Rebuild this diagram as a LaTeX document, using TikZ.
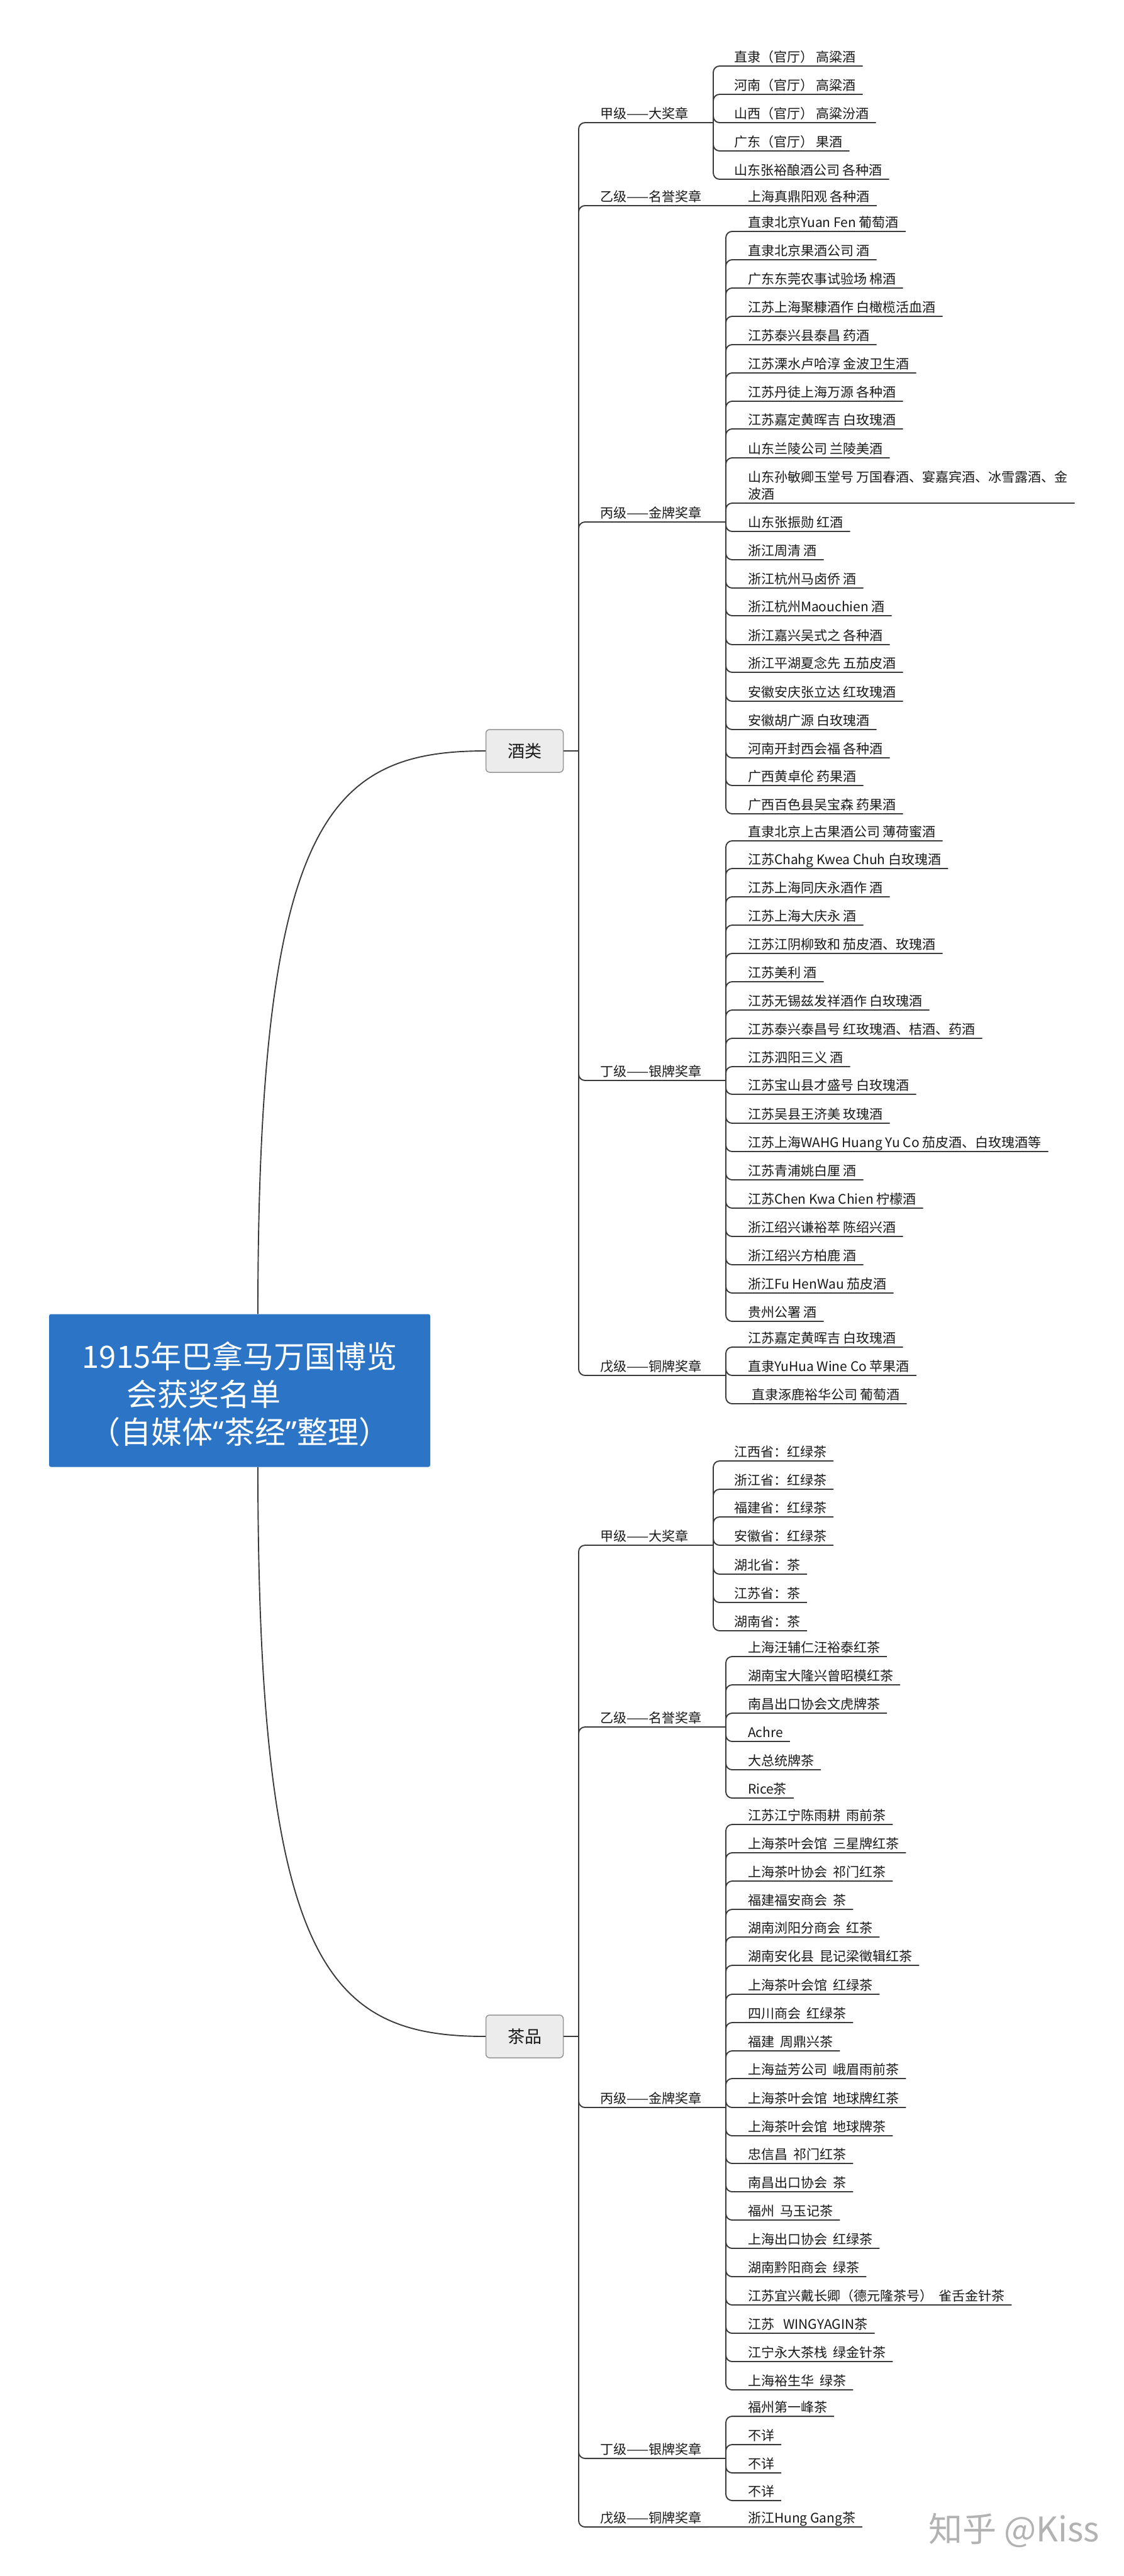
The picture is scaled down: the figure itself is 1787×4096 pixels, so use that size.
\documentclass[tikz,border=0pt]{standalone}
\usepackage{fontspec}
\setmainfont{Noto Sans CJK SC}
\newfontfamily\latinq{Noto Sans}
\definecolor{rootblue}{RGB}{44,117,198}
\definecolor{linecol}{RGB}{58,58,58}
\definecolor{boxfill}{RGB}{236,236,236}
\definecolor{boxdraw}{RGB}{150,150,150}
\begin{document}
\begin{tikzpicture}[x=1pt,y=-1pt,
  conn/.style={draw=linecol, line width=1.9pt, rounded corners=10pt},
  curve/.style={draw=linecol, line width=1.9pt},
  basetext/.style={anchor=south west, inner xsep=11pt, outer sep=0pt, text=black!90},
  leaf/.style={basetext, inner ysep=6.5pt, text depth=0pt, font=\fontsize{21}{25}\selectfont},
  leaftwo/.style={basetext, inner ysep=5pt, align=left, font=\fontsize{21}{27}\selectfont},
  lvl/.style={leaf},
  cat/.style={draw=boxdraw, fill=boxfill, rounded corners=6pt, line width=1.5pt, minimum width=123pt, minimum height=68pt, font=\fontsize{27}{30}\selectfont, inner sep=0pt, text=black!90},
  root/.style={fill=rootblue, text=white, minimum width=606pt, minimum height=243pt, align=center, font=\fontsize{49}{60}\selectfont, inner sep=0pt, rounded corners=3pt},
  wmark/.style={font=\fontsize{54}{54}\selectfont, text=black!30, inner sep=0pt}
]
\fill[white] (0,0) rectangle (1787,4096);
\useasboundingbox (0,0) rectangle (1787,4096);

% root and categories
\node[root] (root) at (381,2211) {\rule{0pt}{54pt}1915年巴拿马万国博览\\\makebox[360pt][l]{会获奖名单}\\（自媒体{\latinq “}茶经{\latinq ”}整理）};
\node[cat] (cw) at (834,1194) {酒类};
\node[cat] (ct) at (834,3238) {茶品};
\draw[curve] ([xshift=29pt]root.north) .. controls (410,1306) and (522,1194) .. (cw.west);
\draw[curve] ([xshift=29pt]root.south) .. controls (410,3126) and (522,3238) .. (ct.west);

\coordinate (jc1) at (920,1194);
\coordinate (jc2) at (920,3238);
\draw[conn] (cw.east) -- (jc1);
\draw[conn] (ct.east) -- (jc2);

% ---------- wine levels
\node[lvl] (lw1) at (943,195) {甲级——大奖章};
\node[lvl] (lw2) at (943,327) {乙级——名誉奖章};
\node[lvl] (lw3) at (943,830) {丙级——金牌奖章};
\node[lvl] (lw4) at (943,1718) {丁级——银牌奖章};
\node[lvl] (lw5) at (943,2187) {戊级——铜牌奖章};
\foreach \n in {lw1,lw2,lw3,lw4,lw5} \draw[conn] (jc1) |- (\n.south east);

\coordinate (jw1) at (1134,195);
\coordinate (jw3) at (1154,830);
\coordinate (jw4) at (1154,1718);
\coordinate (jw5) at (1154,2187);
\draw[conn] (lw1.south east) -- (jw1);
\draw[conn] (lw3.south east) -- (jw3);
\draw[conn] (lw4.south east) -- (jw4);
\draw[conn] (lw5.south east) -- (jw5);

% wine A
\node[leaf] (w1-1) at (1156,105) {直隶（官厅） 高粱酒};
\node[leaf] (w1-2) at (1156,150) {河南（官厅） 高粱酒};
\node[leaf] (w1-3) at (1156,195) {山西（官厅） 高粱汾酒};
\node[leaf] (w1-4) at (1156,240) {广东（官厅） 果酒};
\node[leaf] (w1-5) at (1156,285) {山东张裕酿酒公司 各种酒};
\foreach \i in {1,...,5} \draw[conn] (jw1) |- (w1-\i.south east);

% wine B
\node[leaf] (w2-1) at (1178,327) {上海真鼎阳观 各种酒};
\draw[conn] (lw2.south east) -- (w2-1.south east);

% wine C
\node[leaf] (w3-1) at (1178,368) {直隶北京Yuan Fen 葡萄酒};
\node[leaf] (w3-2) at (1178,413) {直隶北京果酒公司 酒};
\node[leaf] (w3-3) at (1178,458) {广东东莞农事试验场 棉酒};
\node[leaf] (w3-4) at (1178,503) {江苏上海聚糠酒作 白橄榄活血酒};
\node[leaf] (w3-5) at (1178,548) {江苏泰兴县泰昌 药酒};
\node[leaf] (w3-6) at (1178,593) {江苏溧水卢哈淳 金波卫生酒};
\node[leaf] (w3-7) at (1178,638) {江苏丹徒上海万源 各种酒};
\node[leaf] (w3-8) at (1178,682) {江苏嘉定黄晖吉 白玫瑰酒};
\node[leaf] (w3-9) at (1178,728) {山东兰陵公司 兰陵美酒};
\node[leaftwo] (w3-10) at (1178,800) {山东孙敏卿玉堂号 万国春酒、宴嘉宾酒、冰雪露酒、金\\波酒};
\node[leaf] (w3-11) at (1178,845) {山东张振勋 红酒};
\node[leaf] (w3-12) at (1178,890) {浙江周清 酒};
\node[leaf] (w3-13) at (1178,935) {浙江杭州马卤侨 酒};
\node[leaf] (w3-14) at (1178,979) {浙江杭州Maouchien 酒};
\node[leaf] (w3-15) at (1178,1025) {浙江嘉兴吴式之 各种酒};
\node[leaf] (w3-16) at (1178,1069) {浙江平湖夏念先 五茄皮酒};
\node[leaf] (w3-17) at (1178,1115) {安徽安庆张立达 红玫瑰酒};
\node[leaf] (w3-18) at (1178,1160) {安徽胡广源 白玫瑰酒};
\node[leaf] (w3-19) at (1178,1205) {河南开封西会福 各种酒};
\node[leaf] (w3-20) at (1178,1249) {广西黄卓伦 药果酒};
\node[leaf] (w3-21) at (1178,1294) {广西百色县吴宝森 药果酒};
\foreach \i in {1,...,21} \draw[conn] (jw3) |- (w3-\i.south east);

% wine D
\node[leaf] (w4-1) at (1178,1337) {直隶北京上古果酒公司 薄荷蜜酒};
\node[leaf] (w4-2) at (1178,1381) {江苏Chahg Kwea Chuh 白玫瑰酒};
\node[leaf] (w4-3) at (1178,1426) {江苏上海同庆永酒作 酒};
\node[leaf] (w4-4) at (1178,1471) {江苏上海大庆永 酒};
\node[leaf] (w4-5) at (1178,1516) {江苏江阴柳致和 茄皮酒、玫瑰酒};
\node[leaf] (w4-6) at (1178,1561) {江苏美利 酒};
\node[leaf] (w4-7) at (1178,1606) {江苏无锡兹发祥酒作 白玫瑰酒};
\node[leaf] (w4-8) at (1178,1651) {江苏泰兴泰昌号 红玫瑰酒、桔酒、药酒};
\node[leaf] (w4-9) at (1178,1696) {江苏泗阳三义 酒};
\node[leaf] (w4-10) at (1178,1740) {江苏宝山县才盛号 白玫瑰酒};
\node[leaf] (w4-11) at (1178,1786) {江苏吴县王济美 玫瑰酒};
\node[leaf] (w4-12) at (1178,1831) {江苏上海WAHG Huang Yu Co 茄皮酒、白玫瑰酒等};
\node[leaf] (w4-13) at (1178,1876) {江苏青浦姚白厘 酒};
\node[leaf] (w4-14) at (1178,1921) {江苏Chen Kwa Chien 柠檬酒};
\node[leaf] (w4-15) at (1178,1966) {浙江绍兴谦裕萃 陈绍兴酒};
\node[leaf] (w4-16) at (1178,2011) {浙江绍兴方柏鹿 酒};
\node[leaf] (w4-17) at (1178,2056) {浙江Fu HenWau 茄皮酒};
\node[leaf] (w4-18) at (1178,2101) {贵州公署 酒};
\foreach \i in {1,...,18} \draw[conn] (jw4) |- (w4-\i.south east);

% wine E
\node[leaf] (w5-1) at (1178,2142) {江苏嘉定黄晖吉 白玫瑰酒};
\node[leaf] (w5-2) at (1178,2187) {直隶YuHua Wine Co 苹果酒};
\node[leaf] (w5-3) at (1184,2232) {直隶涿鹿裕华公司 葡萄酒};
\foreach \i in {1,...,3} \draw[conn] (jw5) |- (w5-\i.south east);

% ---------- tea levels
\node[lvl] (lt1) at (943,2457) {甲级——大奖章};
\node[lvl] (lt2) at (943,2746) {乙级——名誉奖章};
\node[lvl] (lt3) at (943,3351) {丙级——金牌奖章};
\node[lvl] (lt4) at (943,3909) {丁级——银牌奖章};
\node[lvl] (lt5) at (943,4018) {戊级——铜牌奖章};
\foreach \n in {lt1,lt2,lt3,lt4,lt5} \draw[conn] (jc2) |- (\n.south east);

\coordinate (jt1) at (1134,2457);
\coordinate (jt2) at (1154,2746);
\coordinate (jt3) at (1154,3351);
\coordinate (jt4) at (1154,3909);
\draw[conn] (lt1.south east) -- (jt1);
\draw[conn] (lt2.south east) -- (jt2);
\draw[conn] (lt3.south east) -- (jt3);
\draw[conn] (lt4.south east) -- (jt4);

% tea A
\node[leaf] (t1-1) at (1156,2323) {江西省：红绿茶};
\node[leaf] (t1-2) at (1156,2368) {浙江省：红绿茶};
\node[leaf] (t1-3) at (1156,2412) {福建省：红绿茶};
\node[leaf] (t1-4) at (1156,2457) {安徽省：红绿茶};
\node[leaf] (t1-5) at (1156,2503) {湖北省：茶};
\node[leaf] (t1-6) at (1156,2548) {江苏省：茶};
\node[leaf] (t1-7) at (1156,2593) {湖南省：茶};
\foreach \i in {1,...,7} \draw[conn] (jt1) |- (t1-\i.south east);

% tea B
\node[leaf] (t2-1) at (1178,2634) {上海汪辅仁汪裕泰红茶};
\node[leaf] (t2-2) at (1178,2679) {湖南宝大隆兴曾昭模红茶};
\node[leaf] (t2-3) at (1178,2724) {南昌出口协会文虎牌茶};
\node[leaf] (t2-4) at (1178,2769) {Achre};
\node[leaf] (t2-5) at (1178,2814) {大总统牌茶};
\node[leaf] (t2-6) at (1178,2859) {Rice茶};
\foreach \i in {1,...,6} \draw[conn] (jt2) |- (t2-\i.south east);

% tea C
\node[leaf] (t3-1) at (1178,2901) {江苏江宁陈雨耕~~雨前茶};
\node[leaf] (t3-2) at (1178,2946) {上海茶叶会馆~~三星牌红茶};
\node[leaf] (t3-3) at (1178,2991) {上海茶叶协会~~祁门红茶};
\node[leaf] (t3-4) at (1178,3036) {福建福安商会~~茶};
\node[leaf] (t3-5) at (1178,3080) {湖南浏阳分商会~~红茶};
\node[leaf] (t3-6) at (1178,3125) {湖南安化县~~昆记梁徵辑红茶};
\node[leaf] (t3-7) at (1178,3171) {上海茶叶会馆~~红绿茶};
\node[leaf] (t3-8) at (1178,3216) {四川商会~~红绿茶};
\node[leaf] (t3-9) at (1178,3261) {福建~~周鼎兴茶};
\node[leaf] (t3-10) at (1178,3305) {上海益芳公司~~峨眉雨前茶};
\node[leaf] (t3-11) at (1178,3351) {上海茶叶会馆~~地球牌红茶};
\node[leaf] (t3-12) at (1178,3396) {上海茶叶会馆~~地球牌茶};
\node[leaf] (t3-13) at (1178,3440) {忠信昌~~祁门红茶};
\node[leaf] (t3-14) at (1178,3485) {南昌出口协会~~茶};
\node[leaf] (t3-15) at (1178,3530) {福州~~马玉记茶};
\node[leaf] (t3-16) at (1178,3575) {上海出口协会~~红绿茶};
\node[leaf] (t3-17) at (1178,3620) {湖南黔阳商会~~绿茶};
\node[leaf] (t3-18) at (1178,3665) {江苏宜兴戴长卿（德元隆茶号）~~雀舌金针茶};
\node[leaf] (t3-19) at (1178,3710) {江苏~~~WINGYAGIN茶};
\node[leaf] (t3-20) at (1178,3755) {江宁永大茶栈~~绿金针茶};
\node[leaf] (t3-21) at (1178,3800) {上海裕生华~~绿茶};
\foreach \i in {1,...,21} \draw[conn] (jt3) |- (t3-\i.south east);

% tea D
\node[leaf] (t4-1) at (1178,3842) {福州第一峰茶};
\node[leaf] (t4-2) at (1178,3887) {不详};
\node[leaf] (t4-3) at (1178,3932) {不详};
\node[leaf] (t4-4) at (1178,3976) {不详};
\foreach \i in {1,...,4} \draw[conn] (jt4) |- (t4-\i.south east);

% tea E
\node[leaf] (t5-1) at (1178,4018) {浙江Hung Gang茶};
\draw[conn] (lt5.south east) -- (t5-1.south east);

% watermark
\node[wmark] (wm) at (1612,4023) {知乎 @Kiss};
\end{tikzpicture}
\end{document}
